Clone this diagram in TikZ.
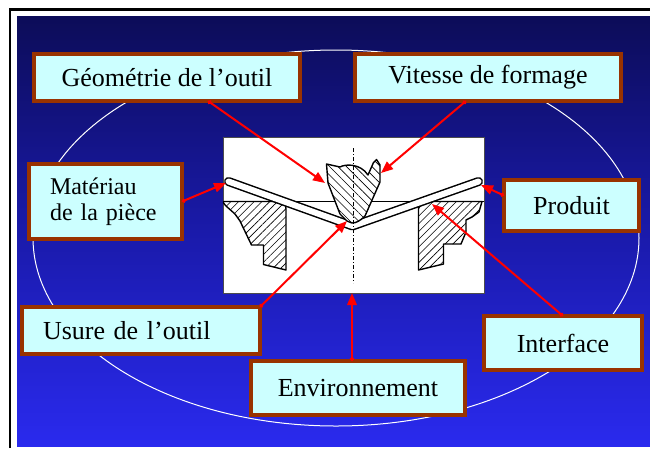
\documentclass[tikz,border=0pt]{standalone}
\usepackage{fontspec}
\setmainfont{Liberation Serif}
\usetikzlibrary{arrows.meta,patterns.meta}
\definecolor{boxfill}{RGB}{204,255,255}
\definecolor{boxedge}{RGB}{153,51,0}
\definecolor{bgtop}{RGB}{12,12,88}
\definecolor{bgmid}{RGB}{26,26,170}
\definecolor{bgbot}{RGB}{42,42,238}
\begin{document}
\begin{tikzpicture}[x=1pt,y=-1pt,
  box/.style={draw=boxedge, fill=boxfill, line width=4pt, inner sep=0pt, outer sep=0pt, font=\fontsize{26}{30}\selectfont},
  redarrow/.style={draw=red, line width=2pt, {Circle[length=4pt]}-{Triangle[length=12pt,width=9.5pt]}},
  outl/.style={draw=black, line width=1.4pt, line join=round},
]
\useasboundingbox (0,0) rectangle (650,448);
\fill[white] (0,0) rectangle (650,448);
\shade[top color=bgtop, bottom color=bgbot, middle color=bgmid] (17,16) rectangle (650,446);
\draw[black, line width=2.2pt] (10,448) -- (10,9.5) -- (650,9.5);
\draw[white, line width=1pt] (336,238) ellipse [x radius=303, y radius=188];

% panel
\draw[fill=white, draw=black!70, line width=0.8pt] (223,137) rectangle (484,293);
\draw[line width=0.8pt] (223,201.5) -- (484,201.5);

% dies
\path[outl, pattern={Lines[angle=45,distance=5.5pt,line width=0.6pt]}]
  (223.5,201.5) -- (280,201.5) .. controls (284,201.5) and (286,205) .. (286,209)
  -- (286,270) -- (263.5,264.5) -- (263.5,245) -- (251.5,245) -- (240,221)
  -- (235,214) -- (226,206) -- (223.5,203) -- cycle;
\path[outl, pattern={Lines[angle=45,distance=5.5pt,line width=0.6pt]}]
  (418.5,270) -- (418.5,209) .. controls (418.5,205) and (421,201.5) .. (425,201.5)
  -- (482,201.5) -- (479,212) -- (472,217) -- (466,220) -- (466,232) -- (461,244)
  -- (443.5,244) -- (443.5,264) -- cycle;

% sheet
\draw[line width=1.5pt, double=white, double distance=6pt, line join=round, line cap=round]
  (228.5,181.5) -- (352.5,226) -- (478.5,181.5);

% tool
\path[outl, preaction={fill=white}, pattern={Lines[angle=-45,distance=6pt,line width=0.6pt]}]
  (326.5,164) -- (340,167) .. controls (345,164) and (360,163) .. (368,175)
  -- (373.5,162.5) -- (376.5,159.5) -- (380,165) -- (380,182) -- (365,216)
  .. controls (360,221) and (356,223) .. (352,223) -- (347,221) -- (340,214)
  -- (328,183) -- cycle;

% axis
\draw[line width=0.6pt, dash pattern=on 4pt off 2pt on 1pt off 2pt] (353,148) -- (353,283);

% arrow targets
\coordinate (t1) at (325,183);
\coordinate (t2) at (381,173);
\coordinate (t3) at (226,183);
\coordinate (t4) at (481,185);
\coordinate (t5) at (347,221);
\coordinate (t6) at (432,204);
\coordinate (t7) at (352,293);

% boxes
\node[box, minimum width=266pt, minimum height=47pt] (geo) at (167,77.5) {Géométrie de l’outil};
\node[box, minimum width=266pt, minimum height=47pt] (vit) at (488,77.5) {Vitesse de formage};
\node[box, text width=111pt, inner xsep=21pt, minimum height=75pt, align=left, font=\fontsize{24}{26}\selectfont] (mat) at (105.5,201.5) {Matériau\\de la pièce};
\node[box, minimum width=135pt, minimum height=51pt] (prod) at (571.5,205.5) {Produit};
\node[box, text width=196pt, inner xsep=21pt, minimum height=47pt, align=left] (usure) at (141,330.5) {Usure de l’outil};
\node[box, minimum width=158pt, minimum height=54pt] (inter) at (563,343) {Interface};
\node[box, minimum width=214pt, minimum height=54pt] (env) at (358,388) {Environnement};

% arrows
\draw[redarrow] ([xshift=41pt]geo.south) -- (t1);
\draw[redarrow] ([xshift=-22pt]vit.south) -- (t2);
\draw[redarrow] (mat.east) -- (t3);
\draw[redarrow] ([yshift=10pt]prod.west) -- (t4);
\draw[redarrow] (usure.north east) -- (t5);
\draw[redarrow] (inter.north) -- (t6);
\draw[redarrow] ([xshift=-6pt]env.north) -- (t7);
\end{tikzpicture}
\end{document}
